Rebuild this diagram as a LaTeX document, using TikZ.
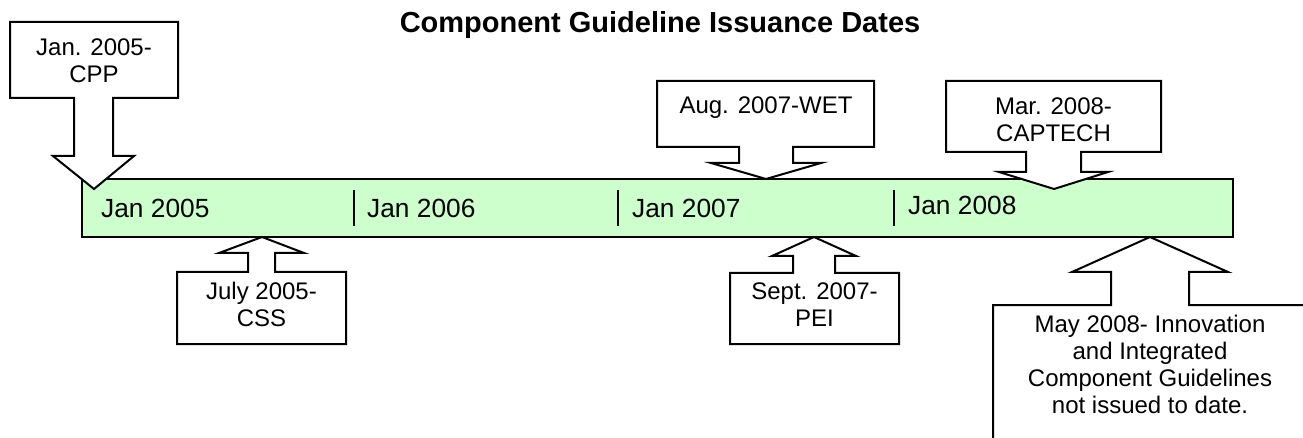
\documentclass[tikz,border=0pt]{standalone}
\usepackage{fontspec}
\setmainfont{Liberation Sans}
\definecolor{barfill}{RGB}{204,255,204}
\begin{document}
\begin{tikzpicture}[x=1pt,y=-1pt,
  outline/.style={draw=black,line width=2pt,fill=white,line join=miter},
  barstyle/.style={draw=black,line width=2pt,fill=barfill},
  tickline/.style={draw=black,line width=2pt},
  lbl/.style={font=\fontsize{26.3}{30}\selectfont,inner sep=0pt,anchor=base west},
  ctext/.style={font=\fontsize{24}{27}\selectfont,inner sep=0pt,align=center},
  titlestyle/.style={font=\bfseries\fontsize{29}{33}\selectfont,inner sep=0pt,anchor=base}
]
\useasboundingbox (0,0) rectangle (1303,438);
\clip (0,0) rectangle (1303,438);

% title
\node[titlestyle] (title) at (660,33) {Component Guideline Issuance Dates};

% timeline bar
\draw[barstyle] (82,179) rectangle (1233,237);
\draw[tickline] (354,190) -- (354,226);
\draw[tickline] (618,190) -- (618,226);
\draw[tickline] (894,190) -- (894,226);
\node[lbl] (y2005) at (101,218) {Jan 2005};
\node[lbl] (y2006) at (367,218) {Jan 2006};
\node[lbl] (y2007) at (632,218) {Jan 2007};
\node[lbl] (y2008) at (908,215) {Jan 2008};

% down-arrow callouts
\draw[outline] (10,22) -- (178,22) -- (178,98) -- (113,98) -- (113,156) -- (134,156) -- (94,189) -- (53,156) -- (74,156) -- (74,98) -- (10,98) -- cycle;
\draw[outline] (657,81) -- (874,81) -- (874,147) -- (793,147) -- (793,163) -- (821,163) -- (766,179) -- (711,163) -- (739,163) -- (739,147) -- (657,147) -- cycle;
\draw[outline] (946,81) -- (1161,81) -- (1161,152) -- (1081,152) -- (1081,172) -- (1108,172) -- (1054,189) -- (999,172) -- (1026,172) -- (1026,152) -- (946,152) -- cycle;

% up-arrow callouts
\draw[outline] (177,344) -- (177,272) -- (248,272) -- (248,253) -- (219,253) -- (262,237) -- (304,253) -- (275,253) -- (275,272) -- (346,272) -- (346,344) -- cycle;
\draw[outline] (730,344) -- (730,273) -- (793,273) -- (793,256) -- (772,256) -- (814,237) -- (856,256) -- (835,256) -- (835,273) -- (899,273) -- (899,344) -- cycle;
\draw[outline] (993,470) -- (993,305) -- (1111,305) -- (1111,272) -- (1072,272) -- (1150,237) -- (1228,272) -- (1189,272) -- (1189,305) -- (1307,305) -- (1307,470) -- cycle;

% callout texts
\node[ctext] (cpp) at (94,60.5) {Jan. 2005-\\CPP};
\node[ctext,anchor=base] (wet) at (766,114) {Aug. 2007-WET};
\node[ctext] (captech) at (1053.5,119.5) {Mar. 2008-\\CAPTECH};
\node[ctext] (css) at (261.5,304.5) {July 2005-\\CSS};
\node[ctext] (pei) at (814.5,305) {Sept. 2007-\\PEI};
\node[ctext] (may) at (1150,364.5) {May 2008- Innovation\\and Integrated\\Component Guidelines\\not issued to date.};
\end{tikzpicture}
\end{document}
